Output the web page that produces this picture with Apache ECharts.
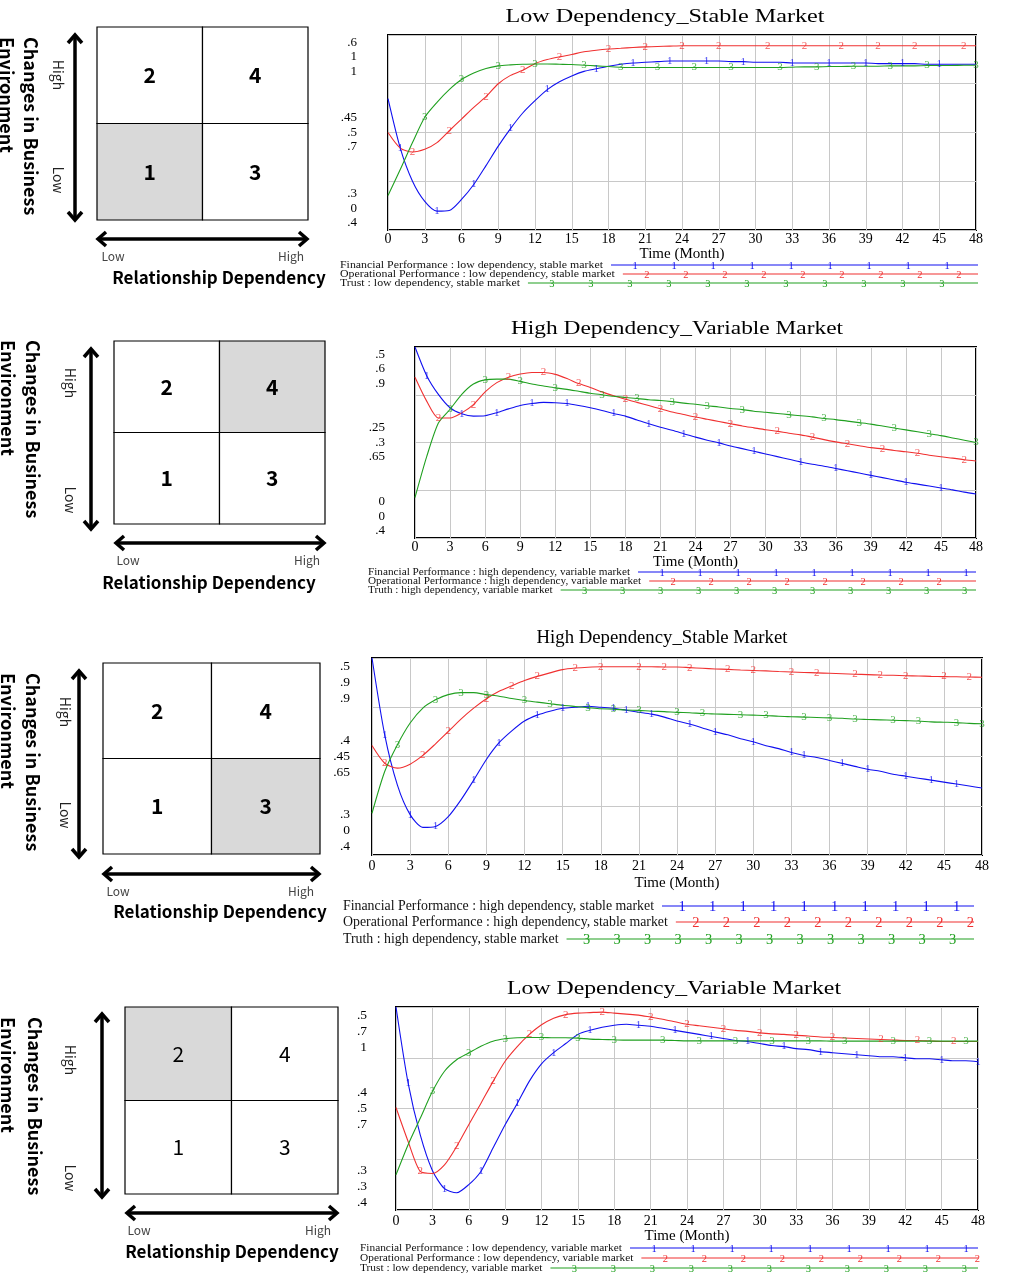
<!DOCTYPE html>
<html><head><meta charset="utf-8">
<script src="https://cdn.jsdelivr.net/npm/echarts@6/dist/echarts.min.js"></script>
<style>html,body{margin:0;padding:0;background:#fff}#c{width:1009px;height:1275px}</style>
</head><body><div id="c"></div>
<script>
// ---------------- DATA ----------------
const months = [0,1,2,3,4,5,6,7,8,9,10,11,12,13,14,15,16,17,18,19,20,21,22,23,24,25,26,27,28,29,30,31,32,33,34,35,36,37,38,39,40,41,42,43,44,45,46,47,48];

// Chart 1: Low Dependency_Stable Market
const lsTitle = 'Low Dependency_Stable Market';
const lsNames = ['Financial Performance : low dependency, stable market','Operational Performance : low dependency, stable market','Trust : low dependency, stable market'];
const lsFinancial = [.502,.426,.375,.344,.329,.330,.347,.370,.399,.429,.456,.480,.499,.516,.528,.537,.544,.548,.552,.555,.557,.558,.559,.560,.560,.560,.560,.560,.559,.559,.558,.558,.558,.557,.557,.557,.557,.557,.557,.557,.556,.556,.556,.556,.555,.555,.555,.555,.555];
const lsOperational = [.500,.420,.400,.414,.448,.509,.569,.629,.684,.750,.793,.819,.853,.874,.888,.900,.914,.922,.928,.932,.936,.939,.941,.943,.945,.945,.945,.945,.945,.945,.945,.945,.945,.945,.945,.945,.945,.945,.945,.945,.945,.945,.945,.945,.945,.945,.945,.945,.945];
const lsTrust = [.506,.586,.669,.747,.793,.832,.863,.883,.897,.905,.908,.910,.911,.911,.910,.909,.907,.905,.903,.901,.900,.900,.900,.900,.900,.900,.900,.900,.900,.900,.900,.900,.900,.901,.902,.902,.903,.903,.904,.904,.904,.905,.905,.905,.906,.906,.906,.907,.907];
const lsTicks = [[.3,.45,.6],[0,.5,1],[.4,.7,1]];
const lsTickLabels = [['.3','.45','.6'],['0','.5','1'],['.4','.7','1']];
const lsMarks = [[1,4,7,10,13,17,20,23,26,29,33,36,39,42,45],[2,5,8,11,14,18,21,24,27,31,34,37,40,43,47],[3,6,9,12,16,19,22,25,28,32,35,38,41,44,48]];

// Chart 2: High Dependency_Variable Market
const hvTitle = 'High Dependency_Variable Market';
const hvNames = ['Financial Performance : high dependency, variable market','Operational Performance : high dependency, variable market','Truth : high dependency, variable market'];
const hvFinancial = [.500,.425,.376,.341,.325,.319,.320,.328,.338,.347,.352,.355,.354,.352,.347,.341,.334,.326,.319,.309,.299,.290,.282,.273,.264,.256,.249,.241,.234,.227,.220,.213,.206,.199,.193,.188,.182,.176,.170,.164,.158,.152,.146,.141,.136,.131,.126,.120,.115];
const hvOperational = [.505,.430,.377,.377,.393,.419,.459,.488,.505,.515,.520,.520,.514,.501,.485,.473,.459,.447,.436,.426,.416,.406,.396,.388,.380,.373,.366,.359,.352,.346,.340,.335,.329,.324,.317,.309,.302,.296,.290,.284,.280,.275,.271,.266,.260,.255,.251,.246,.242];
const hvTrust = [.506,.613,.701,.737,.776,.803,.814,.816,.816,.810,.803,.798,.793,.789,.784,.779,.775,.771,.768,.765,.762,.760,.757,.753,.750,.746,.743,.739,.736,.732,.729,.726,.723,.720,.717,.713,.710,.706,.702,.698,.693,.688,.683,.678,.673,.668,.662,.656,.650];
const hvTicks = [[0,.25,.5],[0,.3,.6],[.4,.65,.9]];
const hvTickLabels = [['0','.25','.5'],['0','.3','.6'],['.4','.65','.9']];
const hvMarks = [[1,4,7,10,13,17,20,23,26,29,33,36,39,42,45],[2,5,8,11,14,18,21,24,27,31,34,37,40,43,47],[3,6,9,12,16,19,22,25,28,32,35,38,41,44,48]];

// Chart 3: High Dependency_Stable Market
const hsTitle = 'High Dependency_Stable Market';
const hsNames = ['Financial Performance : high dependency, stable market','Operational Performance : high dependency, stable market','Truth : high dependency, stable market'];
const hsFinancial = [.500,.422,.371,.341,.328,.329,.339,.356,.376,.397,.414,.426,.436,.442,.446,.449,.450,.451,.450,.449,.447,.445,.443,.440,.436,.433,.429,.425,.422,.418,.415,.411,.408,.404,.401,.399,.396,.393,.390,.387,.385,.382,.380,.378,.376,.374,.372,.370,.368];
const hsOperational = [.500,.419,.397,.415,.455,.508,.564,.621,.671,.714,.748,.773,.797,.816,.832,.847,.854,.858,.860,.860,.860,.860,.860,.859,.859,.856,.853,.850,.848,.845,.843,.841,.838,.836,.834,.832,.830,.828,.826,.824,.822,.821,.819,.818,.816,.815,.814,.813,.812];
const hsTrust = [.506,.612,.680,.735,.773,.794,.807,.812,.812,.807,.803,.797,.792,.788,.784,.780,.777,.774,.771,.770,.768,.767,.765,.764,.762,.761,.759,.758,.757,.756,.755,.754,.752,.751,.750,.749,.748,.747,.745,.744,.743,.742,.741,.740,.738,.737,.736,.734,.733];
const hsTicks = [[.3,.4,.5],[0,.45,.9],[.4,.65,.9]];
const hsTickLabels = [['.3','.4','.5'],['0','.45','.9'],['.4','.65','.9']];
const hsMarks = [[1,3,5,8,10,13,15,17,19,20,22,25,27,30,33,34,37,39,42,44,46],[1,4,6,9,11,13,16,18,21,23,25,28,30,33,35,38,40,42,45,47],[2,5,7,9,12,14,17,19,21,24,26,29,31,34,36,38,41,43,46,48]];

// Chart 4: Low Dependency_Variable Market
const lvTitle = 'Low Dependency_Variable Market';
const lvNames = ['Financial Performance : low dependency, variable market','Operational Performance : low dependency, variable market','Trust : low dependency, variable market'];
const lvFinancial = [.500,.425,.374,.339,.321,.317,.325,.338,.361,.384,.405,.427,.444,.455,.464,.473,.477,.480,.482,.483,.482,.481,.479,.477,.475,.473,.471,.469,.467,.466,.464,.462,.461,.459,.458,.456,.455,.454,.453,.452,.451,.451,.450,.449,.449,.448,.447,.447,.446];
const lvOperational = [.502,.435,.376,.372,.389,.425,.468,.510,.553,.593,.622,.646,.665,.678,.685,.688,.689,.690,.688,.686,.684,.680,.676,.671,.666,.663,.660,.657,.654,.652,.649,.647,.646,.644,.643,.641,.640,.639,.638,.637,.636,.635,.634,.634,.633,.632,.632,.632,.632];
const lvTrust = [.504,.593,.671,.750,.810,.844,.864,.884,.899,.906,.909,.910,.910,.909,.909,.908,.905,.904,.903,.902,.902,.902,.902,.901,.900,.900,.900,.900,.900,.900,.900,.900,.900,.900,.900,.900,.899,.899,.899,.899,.899,.899,.899,.899,.899,.899,.899,.899,.899];
const lvTicks = [[.3,.4,.5],[.3,.5,.7],[.4,.7,1]];
const lvTickLabels = [['.3','.4','.5'],['.3','.5','.7'],['.4','.7','1']];
const lvMarks = [[1,4,7,10,13,16,20,23,26,29,32,35,38,42,45,48],[2,5,8,11,14,17,21,24,27,30,33,36,40,43,46],[3,6,9,12,15,18,22,25,28,31,34,37,41,44,47]];

// Quadrant diagrams
const quadCells = [['2','4'],['1','3']];
const quadHighlight = ['1','4','3','2'];
const quadAxisTitle = ['Changes in Business','Environment'];
const quadXTitle = 'Relationship Dependency';
const levelLabels = ['Low','High'];
const xAxisName = 'Time (Month)';

// ---------------- STYLE / LAYOUT ----------------
const SERIF = '"Liberation Serif","Times New Roman",serif';
const SANS = '"Noto Sans CJK KR","Noto Sans",sans-serif';
const COLORS = ['#1010f0','#f03030','#20a020'];

const charts = [
  {title: lsTitle, names: lsNames, vals: [lsFinancial, lsOperational, lsTrust], ticks: lsTicks, labs: lsTickLabels, marks: lsMarks,
   L: {grid:{left:388,right:33,top:35,height:195}, tx:665, ty:17, tw:319, ym:31, yfs:13, ylh:14.5, xm:2, gap:15, xfs:14,
       lg:{x:340, rows:[265,274,283], fs:10, w:263, end:978, step:39, first:24}}},
  {title: hvTitle, names: hvNames, vals: [hvFinancial, hvOperational, hvTrust], ticks: hvTicks, labs: hvTickLabels, marks: hvMarks,
   L: {grid:{left:415,right:33,top:347,height:191}, tx:677, ty:329, tw:332, ym:30, yfs:13, ylh:14.5, xm:2, gap:15, xfs:14,
       lg:{x:368, rows:[572,581,590], fs:10, w:262, end:976, step:38, first:24}}},
  {title: hsTitle, names: hsNames, vals: [hsFinancial, hsOperational, hsTrust], ticks: hsTicks, labs: hsTickLabels, marks: hsMarks,
   L: {grid:{left:372,right:27,top:658,height:197}, tx:662, ty:638, tw:251, ym:22, yfs:13.5, ylh:16.3, xm:4, gap:21, xfs:14,
       lg:{x:343, rows:[906,922,939], fs:14, w:311, end:974, step:30.5, first:20}}},
  {title: lvTitle, names: lvNames, vals: [lvFinancial, lvOperational, lvTrust], ticks: lvTicks, labs: lvTickLabels, marks: lvMarks,
   L: {grid:{left:396,right:31,top:1007,height:203}, tx:674, ty:989, tw:334, ym:29, yfs:13.5, ylh:16, xm:4, gap:19, xfs:14,
       lg:{x:360, rows:[1248,1258,1268], fs:10, w:262, end:978, step:39, first:24}}}
];

const panels = [
  {x0:97,x1:308,y0:27,y1:220, bold:true, vx:75,vy0:34,vy1:221, hlx:58,hiY:75,loY:180, hy:239,hx0:97,hx1:308, lowX:113,highX:291,lhY:256, rdX:219,rdY:278, cibX:31,envX:7,tY:37},
  {x0:114,x1:325,y0:341,y1:524, bold:true, vx:91,vy0:348,vy1:530, hlx:70,hiY:383,loY:500, hy:543,hx0:115,hx1:325, lowX:128,highX:307,lhY:560, rdX:209,rdY:583, cibX:33,envX:8,tY:340},
  {x0:103,x1:320,y0:663,y1:854, bold:true, vx:79,vy0:670,vy1:858, hlx:65,hiY:712,loY:815, hy:874,hx0:103,hx1:320, lowX:118,highX:301,lhY:891, rdX:220,rdY:912, cibX:33,envX:8,tY:673},
  {x0:125,x1:338,y0:1007,y1:1194, bold:false, vx:102,vy0:1013,vy1:1198, hlx:70,hiY:1060,loY:1178, hy:1213,hx0:126,hx1:338, lowX:139,highX:318,lhY:1230, rdX:232,rdY:1252, cibX:35,envX:8,tY:1017}
];

// ---------------- BUILD ----------------
const measureCtx = document.createElement('canvas').getContext('2d');
function textWidth(t, font){ measureCtx.font = font; return measureCtx.measureText(t).width; }

function txt(t, x, y, opt){
  opt = opt || {};
  return {type:'text', x:x, y:y, rotation: opt.rot || 0, scaleX: opt.sx || 1, silent:true, z:10,
    style:{text:t, x:0, y:0, fill: opt.fill || '#000', font: opt.font,
      align: opt.align || 'center', verticalAlign: opt.va || 'middle',
      textAlign: opt.align || 'center', textVerticalAlign: opt.va || 'middle'}};
}
function line(pts, w, color){
  return {type:'polyline', silent:true, z:10, shape:{points:pts}, style:{stroke:color||'#000', lineWidth:w, fill:null, lineJoin:'miter', lineCap:'butt'}};
}

const graphics = [];
panels.forEach((p, pi) => {
  const w = (p.x1 - p.x0)/2, h = (p.y1 - p.y0)/2;
  for (let r=0;r<2;r++) for (let c=0;c<2;c++){
    const lab = quadCells[r][c];
    graphics.push({type:'rect', silent:true, z:5, shape:{x:p.x0+c*w, y:p.y0+r*h, width:w, height:h},
      style:{fill: lab===quadHighlight[pi] ? '#d9d9d9' : '#ffffff', stroke:'#000', lineWidth:1.2}});
    graphics.push(txt(lab, p.x0+c*w+w/2, p.y0+r*h+h/2, {font:(p.bold?'bold ':'')+'21px '+SANS}));
  }
  const ah = 9, aw = 7;
  graphics.push(line([[p.vx,p.vy0+2],[p.vx,p.vy1-2]], 3.5));
  graphics.push(line([[p.vx-aw,p.vy0+ah],[p.vx,p.vy0+1],[p.vx+aw,p.vy0+ah]], 3.5));
  graphics.push(line([[p.vx-aw,p.vy1-ah],[p.vx,p.vy1-1],[p.vx+aw,p.vy1-ah]], 3.5));
  graphics.push(line([[p.hx0+2,p.hy],[p.hx1-2,p.hy]], 3.5));
  graphics.push(line([[p.hx0+ah,p.hy-aw],[p.hx0+1,p.hy],[p.hx0+ah,p.hy+aw]], 3.5));
  graphics.push(line([[p.hx1-ah,p.hy-aw],[p.hx1-1,p.hy],[p.hx1-ah,p.hy+aw]], 3.5));
  const R = -Math.PI/2;
  graphics.push(txt(levelLabels[1], p.hlx, p.hiY, {rot:R, font:'14px '+SANS, fill:'#222'}));
  graphics.push(txt(levelLabels[0], p.hlx, p.loY, {rot:R, font:'14px '+SANS, fill:'#222'}));
  graphics.push(txt(levelLabels[0], p.lowX, p.lhY, {font:'12px '+SANS, fill:'#444'}));
  graphics.push(txt(levelLabels[1], p.highX, p.lhY, {font:'12px '+SANS, fill:'#444'}));
  graphics.push(txt(quadXTitle, p.rdX, p.rdY, {font:'bold 17px '+SANS}));
  graphics.push(txt(quadAxisTitle[0], p.cibX, p.tY, {rot:R, align:'left', font:'bold 18px '+SANS}));
  graphics.push(txt(quadAxisTitle[1], p.envX, p.tY, {rot:R, align:'left', font:'bold 18px '+SANS}));
});

// Chart titles (Vensim output is horizontally stretched, so fit title width)
charts.forEach(ch => {
  const font = '19px ' + SERIF;
  const sx = ch.L.tw / textWidth(ch.title, font);
  graphics.push(txt(ch.title, ch.L.tx, ch.L.ty, {font:font, sx:sx}));
});

// Legends (Vensim style)
charts.forEach(ch => {
  const lg = ch.L.lg;
  const font = lg.fs + 'px ' + SERIF;
  const sx = lg.w / textWidth(ch.names[0], font);
  ch.names.forEach((nm, k) => {
    const y = lg.rows[k];
    graphics.push(txt(nm, lg.x, y, {align:'left', font:font, fill:'#111', sx:sx}));
    const x0 = lg.x + textWidth(nm, font)*sx + 8;
    graphics.push(line([[x0,y],[lg.end,y]], 1.2, COLORS[k]));
    for (let xx = x0 + lg.first; xx < lg.end + 1; xx += lg.step){
      graphics.push(txt(String(k+1), xx, y+1, {font:(lg.fs+0.5)+'px '+SERIF, fill:COLORS[k]}));
    }
  });
});

const option = {
  animation:false,
  backgroundColor:'#fff',
  grid: charts.map(ch => Object.assign({show:true, borderColor:'#000', borderWidth:2, backgroundColor:'#fff', containLabel:false, outerBoundsMode:'none'}, ch.L.grid)),
  xAxis: charts.map((ch, ci) => ({type:'value', gridIndex:ci, min:0, max:48, interval:3,
    axisLine:{show:false}, axisTick:{show:false},
    splitLine:{show:true, lineStyle:{color:'#c8c8c8', width:1}},
    axisLabel:{fontFamily:SERIF, fontSize:ch.L.xfs, color:'#000', margin:ch.L.xm},
    name:xAxisName, nameLocation:'middle', nameGap:ch.L.gap,
    nameTextStyle:{fontFamily:SERIF, fontSize:15, color:'#000'}})),
  yAxis: [],
  series: [],
  graphic: {elements: graphics}
};

charts.forEach((ch, ci) => {
  for (let k=0;k<3;k++){
    const tk = ch.ticks[k], lab = ch.labs[k];
    const lo = tk[0], hi = tk[2], step = Math.round((hi - lo)/4*1e6)/1e6;
    option.yAxis.push({type:'value', gridIndex:ci, min:lo, max:hi, interval:step, position:'left',
      axisLine:{show:false}, axisTick:{show:false},
      splitLine:{show:k===0, lineStyle:{color:'#c8c8c8', width:1}},
      axisLabel:{fontFamily:SERIF, fontSize:ch.L.yfs, lineHeight:ch.L.ylh, color:'#000', margin:ch.L.ym, align:'right',
        formatter: function(v){
          const i = Math.round((v - lo)/step);
          if (i === 0) return lab[0] + '\n'.repeat(2*(2-k)+1);
          if (i === 2) return k===0 ? lab[1] + '\n\n' : (k===1 ? lab[1] : '\n\n' + lab[1]);
          if (i === 4) return '\n'.repeat(2*k+1) + lab[2];
          return '';
        }}});
    const yi = ci*3 + k;
    const vals = ch.vals[k];
    option.series.push({type:'line', name:ch.names[k], xAxisIndex:ci, yAxisIndex:yi,
      data: months.map((m,i) => [m, vals[i]]), smooth:0.25, showSymbol:false, symbol:'none',
      lineStyle:{color:COLORS[k], width:1.1}, itemStyle:{color:COLORS[k]}, z:3+k, silent:true});
    option.series.push({type:'scatter', xAxisIndex:ci, yAxisIndex:yi,
      data: ch.marks[k].map(m => [m, vals[m]]), symbolSize:1, itemStyle:{color:'rgba(0,0,0,0)'},
      label:{show:true, position:'inside', formatter:String(k+1), color:COLORS[k], fontFamily:SERIF, fontSize:11},
      z:6, silent:true});
  }
});

const chart = echarts.init(document.getElementById('c'), null, {renderer:'canvas'});
chart.setOption(option);
</script>
</body></html>
